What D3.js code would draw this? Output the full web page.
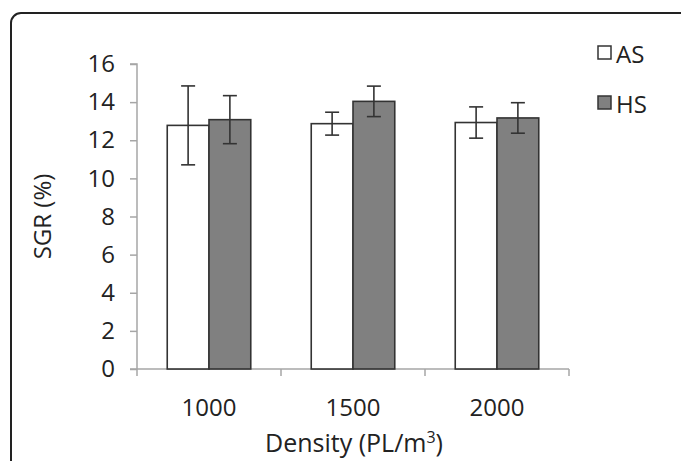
<!DOCTYPE html>
<html>
<head>
  <meta charset="utf-8" />
  <title>SGR by density</title>
  <script src="https://d3js.org/d3.v7.min.js"></script>
  <style>
    body { margin: 0; background: #fff; }
    text { font-family: 'Open Sans', 'Noto Sans', sans-serif; fill: #222; }
  </style>
</head>
<body>
  <svg id="chart" width="681" height="461"></svg>
  <script>
    // data
    var densities = ["1000", "1500", "2000"];
    var seriesNames = ["AS", "HS"];
    var asValues = [12.78, 12.87, 12.93];
    var asErrors = [2.07, 0.6, 0.82];
    var hsValues = [13.08, 14.04, 13.17];
    var hsErrors = [1.26, 0.8, 0.8];
    var yTicks = [0, 2, 4, 6, 8, 10, 12, 14, 16];

    var fills = { AS: "#ffffff", HS: "#808080" };

    var rows = densities.map(function(d, i) {
      return [
        { cat: d, series: "AS", value: asValues[i], err: asErrors[i] },
        { cat: d, series: "HS", value: hsValues[i], err: hsErrors[i] }
      ];
    });

    var svg = d3.select("#chart");

    // outer frame (rounded, runs off the right and bottom)
    svg.append("rect")
      .attr("x", 11).attr("y", 13)
      .attr("width", 700).attr("height", 480)
      .attr("rx", 10).attr("ry", 10)
      .attr("fill", "none")
      .attr("stroke", "#222")
      .attr("stroke-width", 2);

    var x0 = d3.scaleBand()
      .domain(densities)
      .range([137, 569])
      .paddingInner(0.42)
      .paddingOuter(0.21);

    var x1 = d3.scaleBand()
      .domain(seriesNames)
      .range([0, x0.bandwidth()]);

    var y = d3.scaleLinear()
      .domain([0, 16])
      .range([369, 64]);

    // y axis
    var yAxis = svg.append("g")
      .attr("transform", "translate(137,0)")
      .call(d3.axisLeft(y).tickValues(yTicks).tickSize(7).tickPadding(15));
    yAxis.selectAll("path, line").attr("stroke", "#a6a6a6").attr("stroke-width", 1.5);
    yAxis.select(".domain").attr("d", "M-7," + y(16) + "H0V" + y(0));
    yAxis.selectAll("text")
      .style("font-size", "24px")
      .style("font-family", "'Open Sans', sans-serif")
      .attr("fill", "#222");

    // x axis
    var xAxis = svg.append("g")
      .attr("transform", "translate(0,369)")
      .call(d3.axisBottom(x0).tickSize(0).tickPadding(30));
    xAxis.select(".domain").remove();
    xAxis.selectAll("text")
      .style("font-size", "24px")
      .style("font-family", "'Open Sans', sans-serif")
      .attr("fill", "#222");
    xAxis.append("line")
      .attr("x1", 130).attr("x2", 569)
      .attr("y1", 0).attr("y2", 0)
      .attr("stroke", "#a6a6a6").attr("stroke-width", 1.5);
    var step = x0.step();
    xAxis.selectAll(".sep")
      .data(d3.range(densities.length + 1))
      .enter().append("line")
      .attr("x1", function(i) { return 137 + i * step; })
      .attr("x2", function(i) { return 137 + i * step; })
      .attr("y1", 0).attr("y2", 7)
      .attr("stroke", "#a6a6a6").attr("stroke-width", 1.5);

    // bars
    var groups = svg.selectAll(".grp")
      .data(rows)
      .enter().append("g")
      .attr("class", "grp")
      .attr("transform", function(d) { return "translate(" + x0(d[0].cat) + ",0)"; });

    groups.selectAll("rect")
      .data(function(d) { return d; })
      .enter().append("rect")
      .attr("x", function(d) { return x1(d.series); })
      .attr("y", function(d) { return y(d.value); })
      .attr("width", x1.bandwidth())
      .attr("height", function(d) { return y(0) - y(d.value); })
      .attr("fill", function(d) { return fills[d.series]; })
      .attr("stroke", "#333")
      .attr("stroke-width", 1.6);

    // error bars
    var eb = groups.selectAll(".err")
      .data(function(d) { return d; })
      .enter().append("g")
      .attr("class", "err")
      .attr("stroke", "#333")
      .attr("stroke-width", 1.6);
    eb.append("line")
      .attr("x1", function(d) { return x1(d.series) + x1.bandwidth() / 2; })
      .attr("x2", function(d) { return x1(d.series) + x1.bandwidth() / 2; })
      .attr("y1", function(d) { return y(d.value + d.err); })
      .attr("y2", function(d) { return y(d.value - d.err); });
    eb.selectAll(".cap")
      .data(function(d) { return [d.value + d.err, d.value - d.err].map(function(v) { return { s: d.series, v: v }; }); })
      .enter().append("line")
      .attr("x1", function(d) { return x1(d.s) + x1.bandwidth() / 2 - 7; })
      .attr("x2", function(d) { return x1(d.s) + x1.bandwidth() / 2 + 7; })
      .attr("y1", function(d) { return y(d.v); })
      .attr("y2", function(d) { return y(d.v); });

    // axis titles
    svg.append("text")
      .attr("transform", "translate(41," + y(8) + ") rotate(-90)")
      .attr("text-anchor", "middle")
      .attr("dominant-baseline", "central")
      .style("font-size", "24px")
      .text("SGR (%)");

    var xt = svg.append("text")
      .attr("x", 354).attr("y", 452)
      .attr("text-anchor", "middle")
      .style("font-size", "25px");
    xt.append("tspan").text("Density (PL/m");
    xt.append("tspan").attr("dy", -9).style("font-size", "16px").text("3");
    xt.append("tspan").attr("dy", 9).text(")");

    // legend
    var legend = svg.selectAll(".leg")
      .data(seriesNames)
      .enter().append("g")
      .attr("class", "leg")
      .attr("transform", function(d, i) { return "translate(598," + (46 + i * 50) + ")"; });
    legend.append("rect")
      .attr("width", 13).attr("height", 13)
      .attr("fill", function(d) { return fills[d]; })
      .attr("stroke", "#333").attr("stroke-width", 1.5);
    legend.append("text")
      .attr("x", 18).attr("y", 7)
      .attr("dominant-baseline", "central")
      .style("font-size", "24px")
      .text(function(d) { return d; });
  </script>
</body>
</html>
